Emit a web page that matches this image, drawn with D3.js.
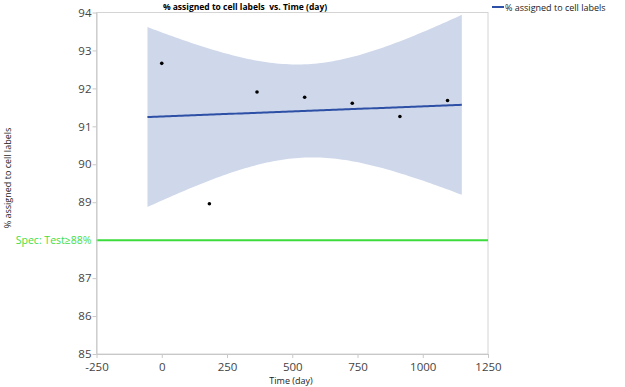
<!DOCTYPE html>
<html>
<head>
<meta charset="utf-8">
<script src="https://cdn.jsdelivr.net/npm/d3@7"></script>
<style>
  body { margin: 0; background: #fff; }
  text { font-family: "Open Sans", "Noto Sans", sans-serif; }
</style>
</head>
<body>
<script>
var days = [0, 182.5, 365, 547.5, 730, 912.5, 1095];
var pct = [92.66, 88.96, 91.905, 91.765, 91.61, 91.26, 91.68];
var xTicks = [-250, 0, 250, 500, 750, 1000, 1250];
var yTicks = [85, 86, 87, 89, 90, 91, 92, 93, 94];
var specLimit = 88;
var tCrit = 2.5706; // t(0.975, df=5)

var w = 625, h = 387,
    mLeft = 96.5, mRight = 488, mTop = 12.5, mBottom = 354;

var x = d3.scaleLinear().domain([-250, 1250]).range([mLeft, mRight]),
    y = d3.scaleLinear().domain([85, 94]).range([mBottom, mTop]);

// least squares fit and 95% confidence band of the mean
var n = days.length,
    mx = d3.mean(days), my = d3.mean(pct),
    sxx = d3.sum(days, function(d) { return (d - mx) * (d - mx); }),
    sxy = d3.sum(days, function(d, i) { return (d - mx) * (pct[i] - my); }),
    slope = sxy / sxx,
    icpt = my - slope * mx,
    sse = d3.sum(days, function(d, i) { var r = pct[i] - (icpt + slope * d); return r * r; }),
    s = Math.sqrt(sse / (n - 2));

var span = d3.max(days) - d3.min(days),
    x0 = d3.min(days) - span * 0.05,
    x1 = d3.max(days) + span * 0.05;

var band = d3.range(0, 101).map(function(i) {
    var xv = x0 + (x1 - x0) * i / 100,
        fit = icpt + slope * xv,
        hw = tCrit * s * Math.sqrt(1 / n + (xv - mx) * (xv - mx) / sxx);
    return {x: xv, lo: fit - hw, hi: fit + hw, fit: fit};
});

var svg = d3.select("body").append("svg")
    .attr("width", w)
    .attr("height", h);

// frame
svg.append("rect")
    .attr("x", mLeft).attr("y", mTop)
    .attr("width", mRight - mLeft).attr("height", mBottom - mTop)
    .attr("fill", "none")
    .attr("stroke", "#d4d4d4");

svg.append("path")
    .datum(band)
    .attr("fill", "#cfd8ea")
    .attr("d", d3.area()
        .x(function(d) { return x(d.x); })
        .y0(function(d) { return y(d.lo); })
        .y1(function(d) { return y(d.hi); }));

svg.append("path")
    .datum(band)
    .attr("fill", "none")
    .attr("stroke", "#2d4fa6")
    .attr("stroke-width", 2)
    .attr("d", d3.line()
        .x(function(d) { return x(d.x); })
        .y(function(d) { return y(d.fit); }));

svg.selectAll("circle.pt")
    .data(days)
  .enter().append("circle")
    .attr("class", "pt")
    .attr("cx", function(d) { return x(d); })
    .attr("cy", function(d, i) { return y(pct[i]); })
    .attr("r", 1.8)
    .attr("fill", "#000");

// spec line
svg.append("line")
    .attr("x1", mLeft).attr("x2", mRight)
    .attr("y1", y(specLimit)).attr("y2", y(specLimit))
    .attr("stroke", "#3ddc3d")
    .attr("stroke-width", 2);

svg.append("text")
    .attr("x", mLeft - 5)
    .attr("y", y(specLimit) + 4)
    .attr("text-anchor", "end")
    .attr("fill", "#44dd44")
    .style("font-size", "10.5px")
    .text("Spec: Test\u226588%");

// axes
var fmt = function(d) { return String(d); };
var xAxis = svg.append("g")
    .attr("transform", "translate(0," + mBottom + ")")
    .call(d3.axisBottom(x).tickValues(xTicks).tickFormat(fmt).tickSize(4).tickSizeOuter(0));

var yAxis = svg.append("g")
    .attr("transform", "translate(" + mLeft + ",0)")
    .call(d3.axisLeft(y).tickValues(yTicks).tickFormat(fmt).tickSize(4).tickSizeOuter(0));

[xAxis, yAxis].forEach(function(g) {
    g.select(".domain").attr("stroke", "#c8c8c8");
    g.selectAll(".tick line").attr("stroke", "#c8c8c8");
    g.selectAll(".tick text")
        .attr("fill", "#444")
        .style("font-size", "11.5px")
        .style("font-family", "'Open Sans', sans-serif");
});
xAxis.selectAll(".tick text").attr("y", 8.5);
yAxis.selectAll(".tick text").attr("x", -5);

// titles
svg.append("text")
    .attr("x", 245).attr("y", 10)
    .attr("text-anchor", "middle")
    .style("font-size", "8.5px")
    .style("font-weight", "bold")
    .style("white-space", "pre")
    .attr("fill", "#000")
    .text("% assigned to cell labels  vs. Time (day)");

svg.append("text")
    .attr("x", 291).attr("y", 383.5)
    .attr("text-anchor", "middle")
    .style("font-size", "9px")
    .attr("fill", "#222")
    .text("Time (day)");

svg.append("text")
    .attr("transform", "translate(11,178) rotate(-90)")
    .attr("text-anchor", "middle")
    .style("font-size", "9px")
    .attr("fill", "#222")
    .text("% assigned to cell labels");

// legend
svg.append("line")
    .attr("x1", 492).attr("x2", 504)
    .attr("y1", 7).attr("y2", 7)
    .attr("stroke", "#2d4fa6")
    .attr("stroke-width", 2);

svg.append("text")
    .attr("x", 505).attr("y", 10.5)
    .style("font-size", "9px")
    .attr("fill", "#222")
    .text("% assigned to cell labels");
</script>
</body>
</html>
